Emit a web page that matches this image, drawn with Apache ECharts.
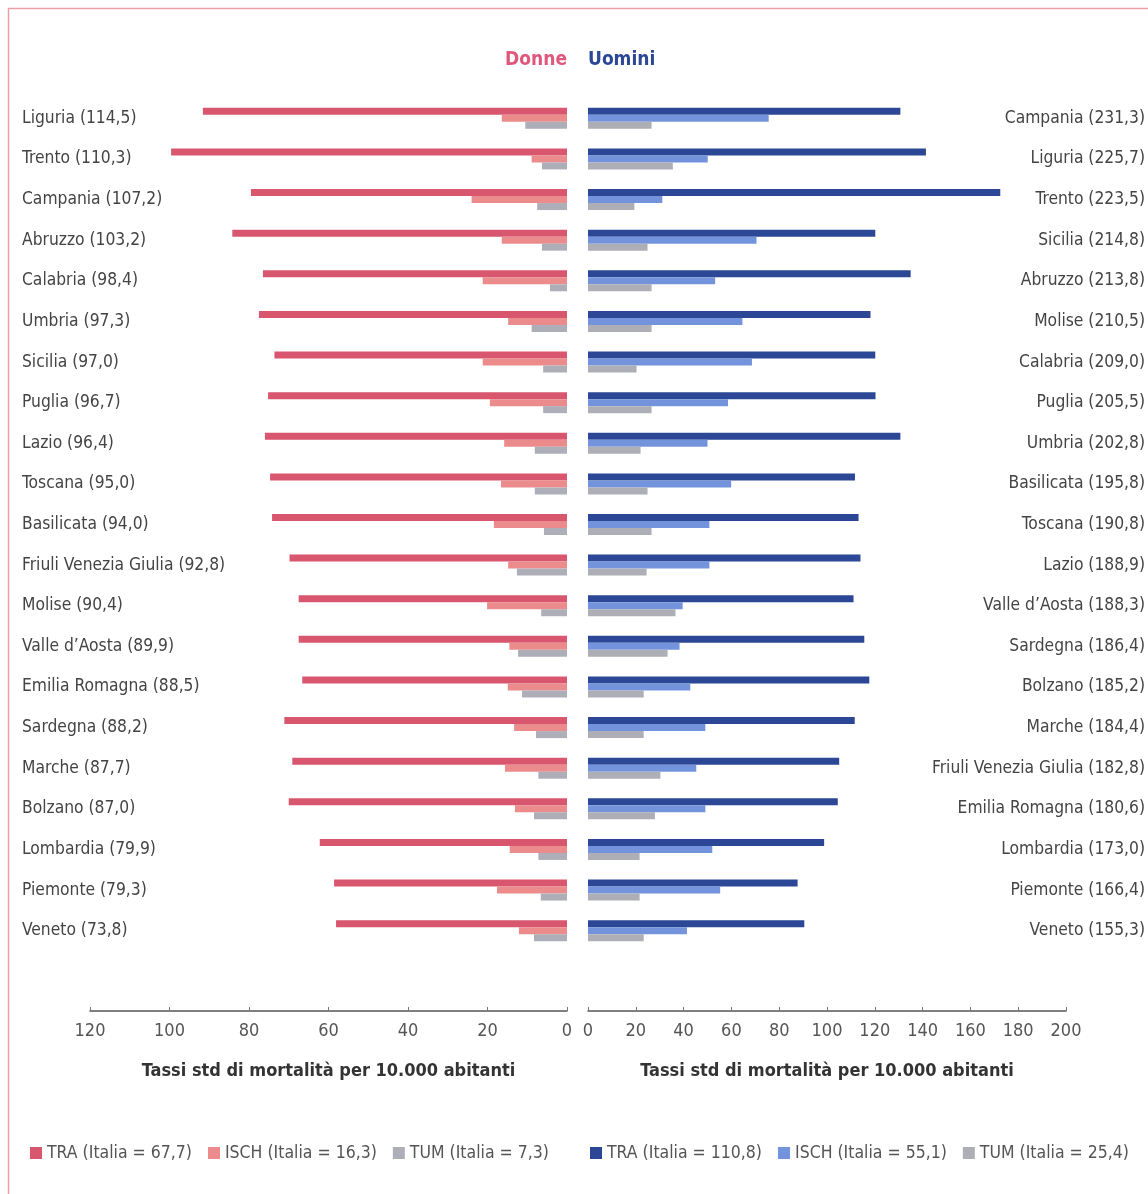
<!DOCTYPE html>
<html><head><meta charset="utf-8">
<script src="https://cdn.jsdelivr.net/npm/echarts@6/dist/echarts.min.js"></script>
<style>html,body{margin:0;padding:0;background:#fff}#c{width:1148px;height:1194px}</style>
</head><body><div id="c"></div>
<script>
const catsF = ['Liguria (114,5)','Trento (110,3)','Campania (107,2)','Abruzzo (103,2)','Calabria (98,4)','Umbria (97,3)','Sicilia (97,0)','Puglia (96,7)','Lazio (96,4)','Toscana (95,0)','Basilicata (94,0)','Friuli Venezia Giulia (92,8)','Molise (90,4)','Valle d’Aosta (89,9)','Emilia Romagna (88,5)','Sardegna (88,2)','Marche (87,7)','Bolzano (87,0)','Lombardia (79,9)','Piemonte (79,3)','Veneto (73,8)'];
const traF = [91.6,99.6,79.5,84.2,76.5,77.5,73.6,75.2,76.0,74.7,74.2,69.8,67.5,67.5,66.6,71.1,69.1,70.0,62.2,58.6,58.1];
const ischF = [16.4,8.9,24.0,16.4,21.2,14.8,21.2,19.4,15.8,16.6,18.4,14.8,20.1,14.5,14.9,13.3,15.6,13.1,14.4,17.6,12.1];
const tumF = [10.5,6.3,7.5,6.3,4.3,8.9,6.0,6.0,8.1,8.1,5.8,12.6,6.5,12.3,11.3,7.8,7.2,8.3,7.2,6.6,8.3];

const catsM = ['Campania (231,3)','Liguria (225,7)','Trento (223,5)','Sicilia (214,8)','Abruzzo (213,8)','Molise (210,5)','Calabria (209,0)','Puglia (205,5)','Umbria (202,8)','Basilicata (195,8)','Toscana (190,8)','Lazio (188,9)','Valle d’Aosta (188,3)','Sardegna (186,4)','Bolzano (185,2)','Marche (184,4)','Friuli Venezia Giulia (182,8)','Emilia Romagna (180,6)','Lombardia (173,0)','Piemonte (166,4)','Veneto (155,3)'];
const traM = [130.7,141.4,172.5,120.2,135.0,118.2,120.2,120.3,130.7,111.7,113.2,114.0,111.1,115.6,117.7,111.6,105.1,104.5,98.8,87.7,90.5];
const ischM = [75.6,50.1,31.1,70.5,53.2,64.6,68.6,58.6,50.0,59.9,50.8,50.8,39.6,38.3,42.8,49.1,45.3,49.1,52.0,55.3,41.4];
const tumM = [26.6,35.5,19.4,24.9,26.6,26.6,20.3,26.6,22.0,24.9,26.6,24.5,36.6,33.3,23.3,23.3,30.3,28.0,21.6,21.6,23.3];

const namesF = ['TRA (Italia = 67,7)','ISCH (Italia = 16,3)','TUM (Italia = 7,3)'];
const namesM = ['TRA (Italia = 110,8)','ISCH (Italia = 55,1)','TUM (Italia = 25,4)'];
const ticksF = [0,20,40,60,80,100,120];
const ticksM = [0,20,40,60,80,100,120,140,160,180,200];
const axisTitle = 'Tassi std di mortalità per 10.000 abitanti';

const FONT = '"Liberation Sans Narrow","DejaVu Sans Condensed","Roboto Condensed","Open Sans",sans-serif';
const colF = ['#d9566f','#eb8b8b','#aeaeb8'];
const colM = ['#2b4795','#7394dc','#aeaeb6'];

const chart = echarts.init(document.getElementById('c'));
function xAx(idx, max, inverse){
  return {gridIndex: idx, type:'value', min:0, max:max, interval:20, inverse:inverse, position:'bottom', offset:60,
    splitLine:{show:false},
    axisLine:{show:true, lineStyle:{color:'#555', width:1.5}},
    axisTick:{show:true, inside:true, length:4, lineStyle:{color:'#777'}},
    axisLabel:{color:'#555', fontSize:18, fontFamily:FONT, margin:11},
    name: axisTitle, nameLocation:'middle', nameGap:51,
    nameTextStyle:{color:'#333', fontSize:18, fontWeight:'bold', fontFamily:FONT}};
}
function yAx(idx, cats, pos, margin, align){
  return {gridIndex: idx, type:'category', data:cats, inverse:true, position:pos,
    axisLine:{show:false}, axisTick:{show:false}, splitLine:{show:false},
    axisLabel:{color:'#444', fontSize:17.3, fontFamily:FONT, margin:margin, align:align}};
}
function bar(name, x, y, data, color){
  return {name:name, type:'bar', xAxisIndex:x, yAxisIndex:y, data:data, barWidth:7, barGap:'0%',
    itemStyle:{color:color}, emphasis:{disabled:true}, animation:false};
}
chart.setOption({
  animation:false,
  title:[
    {text:'Donne', right:576, top:46, textStyle:{color:'#e0577c', fontSize:19, fontWeight:'bold', fontFamily:FONT}},
    {text:'Uomini', left:583, top:46, textStyle:{color:'#2b4795', fontSize:19, fontWeight:'bold', fontFamily:FONT}}
  ],
  grid:[
    {left:90, width:477, top:98, height:853},
    {left:588, width:478, top:98, height:853}
  ],
  xAxis:[xAx(0,120,true), xAx(1,200,false)],
  yAxis:[yAx(0,catsF,'left',68,'left'), yAx(1,catsM,'right',79,'right')],
  legend:[
    {data:namesF, left:25, top:1139, itemWidth:12, itemHeight:12, itemGap:16, icon:'rect',
      textStyle:{color:'#555', fontSize:17.5, fontFamily:FONT}},
    {data:namesM, left:585, top:1139, itemWidth:12, itemHeight:12, itemGap:16, icon:'rect',
      textStyle:{color:'#555', fontSize:17.5, fontFamily:FONT}}
  ],
  graphic:[{type:'rect', shape:{x:8.5, y:8.5, width:1300, height:1300}, style:{fill:'none', stroke:'#eba0a8', lineWidth:1.5}, silent:true}],
  series:[
    bar(namesF[0],0,0,traF,colF[0]), bar(namesF[1],0,0,ischF,colF[1]), bar(namesF[2],0,0,tumF,colF[2]),
    bar(namesM[0],1,1,traM,colM[0]), bar(namesM[1],1,1,ischM,colM[1]), bar(namesM[2],1,1,tumM,colM[2])
  ]
});
</script></body></html>
